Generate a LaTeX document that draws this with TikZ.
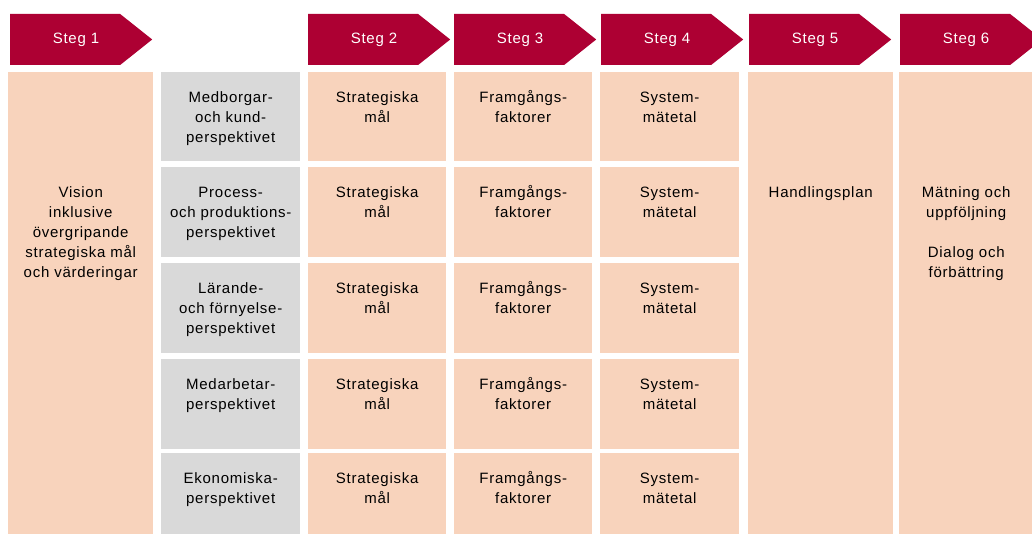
\documentclass[tikz,border=0pt]{standalone}
\usepackage{fontspec}
\setmainfont{Liberation Sans}[LetterSpace=5]
\usetikzlibrary{shapes.symbols}
\definecolor{stegred}{HTML}{AD0033}
\definecolor{peach}{HTML}{F8D3BC}
\definecolor{cellgray}{HTML}{D9D9D9}
\newcommand{\topstrut}{\rule{0pt}{14pt}}
\tikzset{
  stegarrow/.style={signal, signal to=east, signal pointer angle=77, fill=stegred, draw=none,
    minimum width=142pt, minimum height=51pt, inner sep=0pt, anchor=west},
  stegtext/.style={text=white, font=\fontsize{15}{20}\selectfont, inner sep=0pt},
  cell/.style={rectangle, anchor=north west, inner sep=0pt, draw=none, fill=peach},
  graycell/.style={cell, fill=cellgray},
  lbl/.style={anchor=north, align=center, inner sep=0pt, font=\fontsize{15}{20}\selectfont}
}
\begin{document}
\begin{tikzpicture}[x=1pt, y=-1pt]
\useasboundingbox (0,0) rectangle (1032,534);
% Step arrows
\foreach \n/\l in {1/10, 2/308, 3/454, 4/601, 5/749, 6/900} {
  \node[stegarrow] (s\n) at (\l, 39.5) {};
  \node[stegtext] (st\n) at (\l+66, 39.5) {Steg \n};
}
% Column 1
\node[cell, minimum width=145pt, minimum height=462pt] (c1) at (8,72) {};
\node[lbl] (c1t) at ([yshift=-111pt]c1.north) {\topstrut Vision\\inklusive\\övergripande\\strategiska mål\\och värderingar};
% Column 5
\node[cell, minimum width=145pt, minimum height=462pt] (c5) at (748,72) {};
\node[lbl] (c5t) at ([yshift=-111pt]c5.north) {\topstrut Handlingsplan};
% Column 6
\node[cell, minimum width=140pt, minimum height=462pt] (c6) at (899,72) {};
\node[lbl] (c6t) at ([xshift=-3pt, yshift=-111pt]c6.north) {\topstrut Mätning och\\uppföljning\\[20pt]Dialog och\\förbättring};
% Rows
\foreach \r/\y/\h/\txt in {
  1/72/89/{Medborgar-\\och kund-\\perspektivet},
  2/167/90/{Process-\\och produktions-\\perspektivet},
  3/263/90/{Lärande-\\och förnyelse-\\perspektivet},
  4/359/90/{Medarbetar-\\perspektivet},
  5/453/81/{Ekonomiska-\\perspektivet}} {
  \node[graycell, minimum width=139pt, minimum height=\h pt] (g\r) at (161,\y) {};
  \node[lbl] (gt\r) at ([yshift=-16pt]g\r.north) {\topstrut\txt};
  \node[cell, minimum width=138pt, minimum height=\h pt] (a\r) at (308,\y) {};
  \node[lbl] (at\r) at ([yshift=-16pt]a\r.north) {\topstrut Strategiska\\mål};
  \node[cell, minimum width=138pt, minimum height=\h pt] (b\r) at (454,\y) {};
  \node[lbl] (bt\r) at ([yshift=-16pt]b\r.north) {\topstrut Framgångs-\\faktorer};
  \node[cell, minimum width=139pt, minimum height=\h pt] (d\r) at (600,\y) {};
  \node[lbl] (dt\r) at ([yshift=-16pt]d\r.north) {\topstrut System-\\mätetal};
}
\end{tikzpicture}
\end{document}
